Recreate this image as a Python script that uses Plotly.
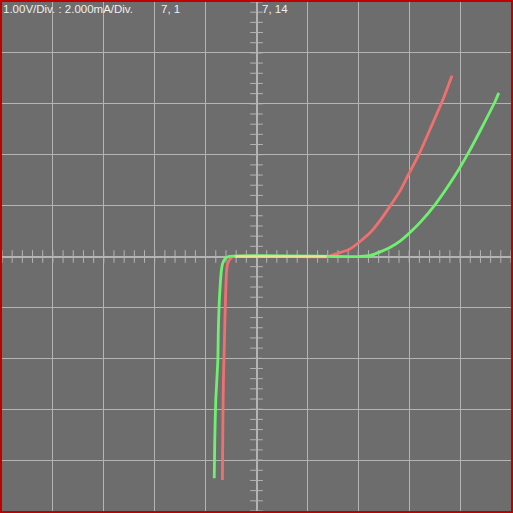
import plotly.graph_objects as go

# Curve tracer readout: 1.00 V/div horizontal, 2.000 mA/div vertical
red_v = [-0.67, -0.66, -0.65, -0.63, -0.61, -0.59, -0.57, -0.53, -0.45, 1.41,
         1.59, 1.84, 2.04, 2.24, 2.43, 2.63, 2.82, 2.96, 3.20, 3.41, 3.67, 3.84]
red_i = [-8.78, -6.43, -4.86, -3.29, -1.73, -0.63, -0.31, -0.12, 0.0, 0.0,
         0.12, 0.30, 0.60, 0.95, 1.42, 2.00, 2.58, 3.12, 4.05, 5.00, 6.20, 7.10]

green_v = [-0.83, -0.82, -0.80, -0.76, -0.75, -0.73, -0.69, -0.67, -0.63, -0.55,
           2.04, 2.24, 2.43, 2.63, 2.82, 3.02, 3.22, 3.51, 3.90, 4.16, 4.41, 4.69, 4.76]
green_i = [-8.71, -7.22, -5.65, -4.08, -2.90, -1.73, -0.55, -0.31, -0.12, 0.0,
           0.0, 0.04, 0.18, 0.36, 0.60, 0.95, 1.35, 2.04, 3.18, 4.06, 5.00, 6.10, 6.43]

overlap_v = [-0.42, 1.38]
overlap_i = [0.0, 0.0]

header_texts = ["1.00V/Div. : 2.000mA/Div.", "7, 1", "7, 14"]
header_px = [2, 160, 261]

BG = "#6d6d6d"
GRID = "#b4b4b4"
BORDER = "#bf0000"

fig = go.Figure()

# minor ticks along the centre axes
tick_x = [round(-5 + 0.2 * k, 2) for k in range(51)]
tick_y = [round(-10 + 0.4 * k, 2) for k in range(51)]
fig.add_trace(go.Scatter(x=tick_x, y=[0] * len(tick_x), mode="markers",
                         marker=dict(symbol="line-ns-open", size=9, color=GRID,
                                     line=dict(color=GRID, width=1)),
                         hoverinfo="skip", showlegend=False))
fig.add_trace(go.Scatter(x=[0] * len(tick_y), y=tick_y, mode="markers",
                         marker=dict(symbol="line-ew-open", size=9, color=GRID,
                                     line=dict(color=GRID, width=1)),
                         hoverinfo="skip", showlegend=False))

fig.add_trace(go.Scatter(x=red_v, y=red_i, mode="lines",
                         line=dict(color="#f07070", width=2.8,
                                   shape="spline", smoothing=0.6),
                         showlegend=False))
fig.add_trace(go.Scatter(x=green_v, y=green_i, mode="lines",
                         line=dict(color="#6ff06f", width=2.8,
                                   shape="spline", smoothing=0.6),
                         showlegend=False))
fig.add_trace(go.Scatter(x=overlap_v, y=overlap_i, mode="lines",
                         line=dict(color="#e6e690", width=2.6),
                         showlegend=False))

for txt, px in zip(header_texts, header_px):
    fig.add_annotation(text=txt, xref="paper", yref="paper",
                       x=(px - 2) / 509, y=1, xanchor="left", yanchor="top",
                       showarrow=False, yshift=1, xshift=-1,
                       font=dict(family="Liberation Sans, Arial, sans-serif",
                                 size=11.5, color="#f0f0f0"))

fig.update_xaxes(range=[-5, 5], dtick=1, showgrid=True, gridcolor=GRID,
                 gridwidth=1, zeroline=True, zerolinecolor=GRID,
                 zerolinewidth=1.5, showticklabels=False, ticks="",
                 showline=False, fixedrange=True)
fig.update_yaxes(range=[-10, 10], dtick=2, showgrid=True, gridcolor=GRID,
                 gridwidth=1, zeroline=True, zerolinecolor=GRID,
                 zerolinewidth=1.5, showticklabels=False, ticks="",
                 showline=False, fixedrange=True)

fig.update_layout(width=513, height=513, autosize=False,
                  margin=dict(l=2, r=2, t=2, b=2, pad=0),
                  paper_bgcolor=BORDER, plot_bgcolor=BG,
                  showlegend=False)

fig.write_html("out.html", config={"displayModeBar": False},
               post_script="document.body.style.margin='0';"
                           "document.body.style.overflow='hidden';")
